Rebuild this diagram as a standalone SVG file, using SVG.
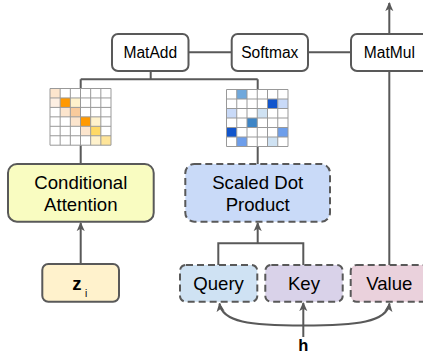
<svg xmlns="http://www.w3.org/2000/svg" width="423" height="355" viewBox="0 0 423 355">
<defs>
<marker id="arr" viewBox="0 0 10 10" refX="9" refY="5" markerWidth="9" markerHeight="9" markerUnits="userSpaceOnUse" orient="auto">
<path d="M0,0.5 L10,5 L0,9.5 L2.5,5 z" fill="#595959"/>
</marker>
<style>
.box{stroke:#595959;stroke-width:2}
.dash{stroke-dasharray:7 4}
.t{font-family:"Liberation Sans",Arial,sans-serif;fill:#000;text-anchor:middle}
.s{font-size:15.6px}
.m{font-size:18.6px}
.c{fill:none;stroke:#595959;stroke-width:2}
.g{fill:none;stroke:#999;stroke-width:1}
</style>
</defs>
<rect width="423" height="355" fill="#fff"/>
<g id="connectors">
<path class="c" d="M188.7,52.3H231.7 M308,52.3H351"/>
<path class="c" d="M150.7,71V79.3 M80.7,79.3H257.7 M80.7,79.3V164 M257.7,79.3V164"/>
<path class="c" d="M80.7,264V223" marker-end="url(#arr)"/>
<path class="c" d="M218.3,265V243.3H303.3V265"/>
<path class="c" d="M257.7,243.3V223" marker-end="url(#arr)"/>
<path class="c" d="M389.3,265V71"/>
<path class="c" d="M389.3,34V3" marker-end="url(#arr)"/>
<path class="c" d="M303.3,337V303" marker-end="url(#arr)"/>
<path class="c" d="M303.3,325.5C250,325.5 222,322 219.5,303.5" marker-end="url(#arr)"/>
<path class="c" d="M303.3,325.5C357,325.5 387,322 389.5,303.5" marker-end="url(#arr)"/>
</g>
<g id="matadd">
<rect class="box" x="112" y="34" width="76.5" height="37" rx="6" fill="#fff"/>
<text class="t s" x="150.3" y="58">MatAdd</text>
</g>
<g id="softmax">
<rect class="box" x="231.7" y="34" width="76.3" height="37" rx="6" fill="#fff"/>
<text class="t s" x="269.8" y="58">Softmax</text>
</g>
<g id="matmul">
<rect class="box" x="351" y="34" width="80" height="37" rx="6" fill="#fff"/>
<text class="t s" x="389.3" y="58">MatMul</text>
</g>
<g id="grid-left">
<rect x="50" y="88.5" width="61" height="56.7" fill="#fff"/>
<g stroke="none">
<rect x="50" y="88.5" width="10.17" height="9.45" fill="#fce5cd"/>
<rect x="50" y="97.95" width="10.17" height="9.45" fill="#fdefe2"/>
<rect x="60.17" y="97.95" width="10.17" height="9.45" fill="#ff9900"/>
<rect x="70.33" y="97.95" width="10.17" height="9.45" fill="#fff2cc"/>
<rect x="60.17" y="107.4" width="10.17" height="9.45" fill="#fce5cd"/>
<rect x="70.33" y="107.4" width="10.17" height="9.45" fill="#f9cb9c"/>
<rect x="70.33" y="116.85" width="10.17" height="9.45" fill="#fce5cd"/>
<rect x="80.5" y="116.85" width="10.17" height="9.45" fill="#ff9900"/>
<rect x="90.67" y="116.85" width="10.17" height="9.45" fill="#fff2cc"/>
<rect x="80.5" y="126.3" width="10.17" height="9.45" fill="#fce5cd"/>
<rect x="90.67" y="126.3" width="10.17" height="9.45" fill="#ffd966"/>
<rect x="90.67" y="135.75" width="10.17" height="9.45" fill="#fff2cc"/>
<rect x="100.83" y="135.75" width="10.17" height="9.45" fill="#ffe599"/>
</g>
<path class="g" d="M50,88.5H111V145.2H50Z M60.17,88.5V145.2 M70.33,88.5V145.2 M80.5,88.5V145.2 M90.67,88.5V145.2 M100.83,88.5V145.2 M50,97.95H111 M50,107.4H111 M50,116.85H111 M50,126.3H111 M50,135.75H111"/>
</g>
<g id="grid-right">
<rect x="226.5" y="89.5" width="61.5" height="57" fill="#fff"/>
<g stroke="none">
<rect x="236.75" y="89.5" width="10.25" height="9.5" fill="#6fa8dc"/>
<rect x="267.5" y="99" width="10.25" height="9.5" fill="#1155cc"/>
<rect x="277.75" y="99" width="10.25" height="9.5" fill="#c9daf8"/>
<rect x="226.5" y="108.5" width="10.25" height="9.5" fill="#c9daf8"/>
<rect x="257.25" y="108.5" width="10.25" height="9.5" fill="#cfe2f3"/>
<rect x="247" y="118" width="10.25" height="9.5" fill="#3d85c6"/>
<rect x="226.5" y="127.5" width="10.25" height="9.5" fill="#1155cc"/>
<rect x="277.75" y="127.5" width="10.25" height="9.5" fill="#6d9eeb"/>
<rect x="236.75" y="137" width="10.25" height="9.5" fill="#6d9eeb"/>
<rect x="267.5" y="137" width="10.25" height="9.5" fill="#cfe2f3"/>
</g>
<path class="g" d="M226.5,89.5H288V146.5H226.5Z M236.75,89.5V146.5 M247,89.5V146.5 M257.25,89.5V146.5 M267.5,89.5V146.5 M277.75,89.5V146.5 M226.5,99H288 M226.5,108.5H288 M226.5,118H288 M226.5,127.5H288 M226.5,137H288"/>
</g>
<g id="conditional-attention">
<rect class="box" x="8" y="164" width="145.7" height="57.7" rx="9" fill="#f9fcc1"/>
<text class="t m" x="80.8" y="189">Conditional</text>
<text class="t m" x="80.8" y="211">Attention</text>
</g>
<g id="scaled-dot-product">
<rect class="box dash" x="185.3" y="164" width="144.7" height="57.7" rx="9" fill="#c9daf8"/>
<text class="t m" x="257.7" y="189">Scaled Dot</text>
<text class="t m" x="257.7" y="211">Product</text>
</g>
<g id="zi">
<rect class="box" x="42.3" y="264" width="76.7" height="37.7" rx="6" fill="#fff2cc"/>
<text class="t" x="77" y="290" font-size="18.6" font-weight="bold">z</text>
<text class="t" x="86" y="296.5" font-size="10">i</text>
</g>
<g id="query">
<rect class="box dash" x="180" y="265" width="77.3" height="36.7" rx="6" fill="#cfe2f3"/>
<text class="t m" x="218.6" y="290">Query</text>
</g>
<g id="key">
<rect class="box dash" x="265.3" y="265" width="77.4" height="36.7" rx="6" fill="#d9d2e9"/>
<text class="t m" x="304" y="290">Key</text>
</g>
<g id="value">
<rect class="box dash" x="350.7" y="265" width="80" height="36.7" rx="6" fill="#ead1dc"/>
<text class="t m" x="389.3" y="290">Value</text>
</g>
<g id="h">
<text class="t" x="303.3" y="351" font-size="16.5" font-weight="bold">h</text>
</g>
</svg>
